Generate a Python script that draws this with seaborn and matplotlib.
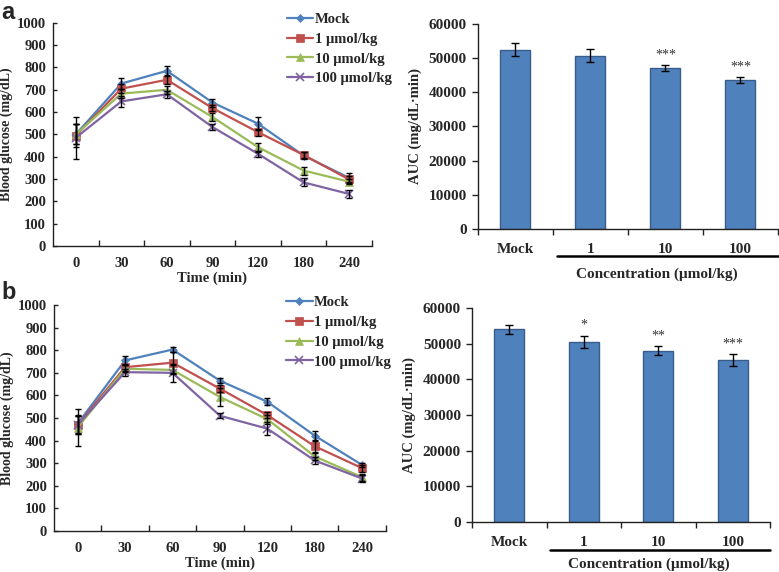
"""Glucose tolerance curves and AUC bars, panels a and b."""

import numpy as np
import pandas as pd
import matplotlib
matplotlib.use("Agg")
import matplotlib.pyplot as plt
import matplotlib.transforms as mtransforms
import seaborn as sns

# ---- data -------------------------------------------------------------
TIMES  = ["0", "30", "60", "90", "120", "180", "240"]
GROUPS = ["Mock", "1 μmol/kg", "10 μmol/kg", "100 μmol/kg"]

# panel a: blood glucose (mean, sd)
A_MOCK    = [500, 728, 785, 643, 548, 405, 305]
A_1       = [495, 705, 745, 618, 510, 408, 298]
A_10      = [500, 683, 700, 578, 443, 338, 288]
A_100     = [485, 648, 680, 533, 413, 285, 233]
A_MOCK_SD = [45, 25, 22, 18, 30, 15, 20]
A_1_SD    = [50, 20, 20, 15, 15, 15, 15]
A_10_SD   = [45, 20, 18, 20, 20, 18, 12]
A_100_SD  = [95, 25, 15, 15, 12, 18, 18]

# panel b: blood glucose (mean, sd)
B_MOCK    = [475, 755, 803, 665, 572, 422, 292]
B_1       = [470, 725, 745, 630, 513, 375, 278]
B_10      = [458, 718, 713, 593, 495, 330, 238]
B_100     = [470, 703, 700, 510, 453, 312, 232]
B_MOCK_SD = [40, 20, 10, 12, 15, 20, 10]
B_1_SD    = [40, 15, 45, 15, 15, 25, 15]
B_10_SD   = [80, 15, 20, 40, 20, 15, 15]
B_100_SD  = [40, 15, 40, 10, 30, 15, 15]

# AUC bars
CONC       = ["Mock", "1", "10", "100"]
A_AUC      = [52500, 50700, 47000, 43700]
A_AUC_SD   = [1800, 1900, 900, 900]
A_STARS    = ["", "", "***", "***"]
B_AUC      = [54000, 50500, 48000, 45500]
B_AUC_SD   = [1300, 1800, 1300, 1700]
B_STARS    = ["", "*", "**", "***"]

# ---- style ------------------------------------------------------------
COLORS  = ["#4F81BD", "#C0504D", "#9BBB59", "#8064A2"]
MARKERS = ["D", "s", "^", "x"]
MSIZES  = [4, 6, 6, 6]
BAR_COLOR = "#4F81BD"
BAR_EDGE  = "#385D8A"

sns.set_theme(style="white")
plt.rcParams["font.family"] = ["Liberation Serif", "DejaVu Serif"]
plt.rcParams["font.weight"] = "bold"
plt.rcParams["axes.labelweight"] = "bold"
plt.rcParams["axes.edgecolor"] = "#222222"
plt.rcParams["axes.linewidth"] = 1.0

fig = plt.figure(figsize=(7.79, 5.72), dpi=100)


def line_panel(ax, means, sds, legend_anchor):
    pos = np.arange(len(TIMES))
    for name, m, sd, c, mk, ms in zip(GROUPS, means, sds, COLORS, MARKERS, MSIZES):
        sns.lineplot(x=pos, y=m, ax=ax, color=c, marker=mk, markersize=ms,
                     markeredgecolor=c, markeredgewidth=1.2 if mk == "x" else 0.5,
                     linewidth=1.6, label=name)
        ax.errorbar(pos, m, yerr=sd, fmt="none", ecolor="black",
                    elinewidth=1.0, capsize=2.5, capthick=1.0, zorder=5)
    ax.set_xlim(-0.5, len(TIMES) - 0.5)
    ax.set_ylim(0, 1000)
    ax.set_yticks(np.arange(0, 1001, 100))
    ax.set_xticks(pos)
    ax.set_xticklabels(TIMES)
    ax.set_xticks(pos + 0.5, minor=True)
    ax.tick_params(axis="x", which="major", length=0, pad=8, labelsize=10.5)
    ax.tick_params(axis="x", which="minor", direction="in", length=4,
                   width=1.0, bottom=True, color="#222222")
    ax.tick_params(axis="y", direction="in", length=3, width=1.0, left=True,
                   labelsize=10.5, pad=5, color="#222222")
    ax.set_xlabel("Time (min)", fontsize=10.5, labelpad=1)
    ax.set_ylabel("Blood glucose (mg/dL)", fontsize=10, labelpad=3)
    sns.despine(ax=ax)
    ax.legend(loc="upper left", bbox_to_anchor=legend_anchor, frameon=False,
              fontsize=10.5, handlelength=1.8, handletextpad=0.1,
              labelspacing=0.45, borderaxespad=0, borderpad=0)


def bar_panel(ax, vals, sds, stars, line_x0, label_x, label_y):
    df = pd.DataFrame({"conc": CONC, "auc": vals})
    sns.barplot(data=df, x="conc", y="auc", ax=ax, color=BAR_COLOR,
                edgecolor=BAR_EDGE, linewidth=1.0, width=0.4, saturation=1)
    pos = np.arange(len(CONC))
    ax.errorbar(pos, vals, yerr=sds, fmt="none", ecolor="black",
                elinewidth=1.0, capsize=3, capthick=1.0, zorder=5)
    for x, v, sd, s in zip(pos, vals, sds, stars):
        if s:
            ax.text(x, v + sd + 1000, s, ha="center", va="bottom",
                    fontsize=10, fontweight="normal", color="#333333")
    ax.set_xlim(-0.5, len(CONC) - 0.5)
    ax.set_ylim(0, 60000)
    ax.set_yticks(np.arange(0, 60001, 10000))
    ax.set_xticks(pos)
    ax.set_xticklabels(CONC)
    ax.set_xticks(np.arange(len(CONC) + 1) - 0.5, minor=True)
    ax.tick_params(axis="x", which="major", length=0, pad=10, labelsize=11)
    ax.tick_params(axis="x", which="minor", direction="out", length=4,
                   width=1.0, bottom=True, color="#222222")
    ax.tick_params(axis="y", direction="out", length=4, width=1.0, left=True,
                   labelsize=11, pad=4, color="#222222")
    ax.set_ylabel("AUC (mg/dL·min)", fontsize=10.5, labelpad=5)
    ax.set_xlabel("Concentration (μmol/kg)", fontsize=11)
    ax.xaxis.set_label_coords(label_x, label_y)
    sns.despine(ax=ax)
    trans = mtransforms.blended_transform_factory(ax.transData, ax.transAxes)
    ax.plot([line_x0, len(CONC) - 0.5], [-0.13, -0.13], transform=trans,
            color="black", linewidth=1.8, clip_on=False)


ax_a1 = fig.add_axes([0.068, 0.570, 0.4095, 0.390])
ax_a2 = fig.add_axes([0.6136, 0.5997, 0.385, 0.3584])
ax_b1 = fig.add_axes([0.0693, 0.0717, 0.426, 0.395])
ax_b2 = fig.add_axes([0.606, 0.0874, 0.3825, 0.374])

line_panel(ax_a1, [A_MOCK, A_1, A_10, A_100],
           [A_MOCK_SD, A_1_SD, A_10_SD, A_100_SD], (0.733, 1.045))
line_panel(ax_b1, [B_MOCK, B_1, B_10, B_100],
           [B_MOCK_SD, B_1_SD, B_10_SD, B_100_SD], (0.70, 1.04))
bar_panel(ax_a2, A_AUC, A_AUC_SD, A_STARS, 0.55, 0.597, -0.19)
bar_panel(ax_b2, B_AUC, B_AUC_SD, B_STARS, 0.55, 0.594, -0.165)

fig.text(0.002, 0.998, "a", fontsize=17, fontweight="bold",
         family=["Liberation Sans", "DejaVu Sans"], va="top", ha="left")
fig.text(0.002, 0.508, "b", fontsize=17, fontweight="bold",
         family=["Liberation Sans", "DejaVu Sans"], va="top", ha="left")

fig.savefig("out.png", dpi=100)
